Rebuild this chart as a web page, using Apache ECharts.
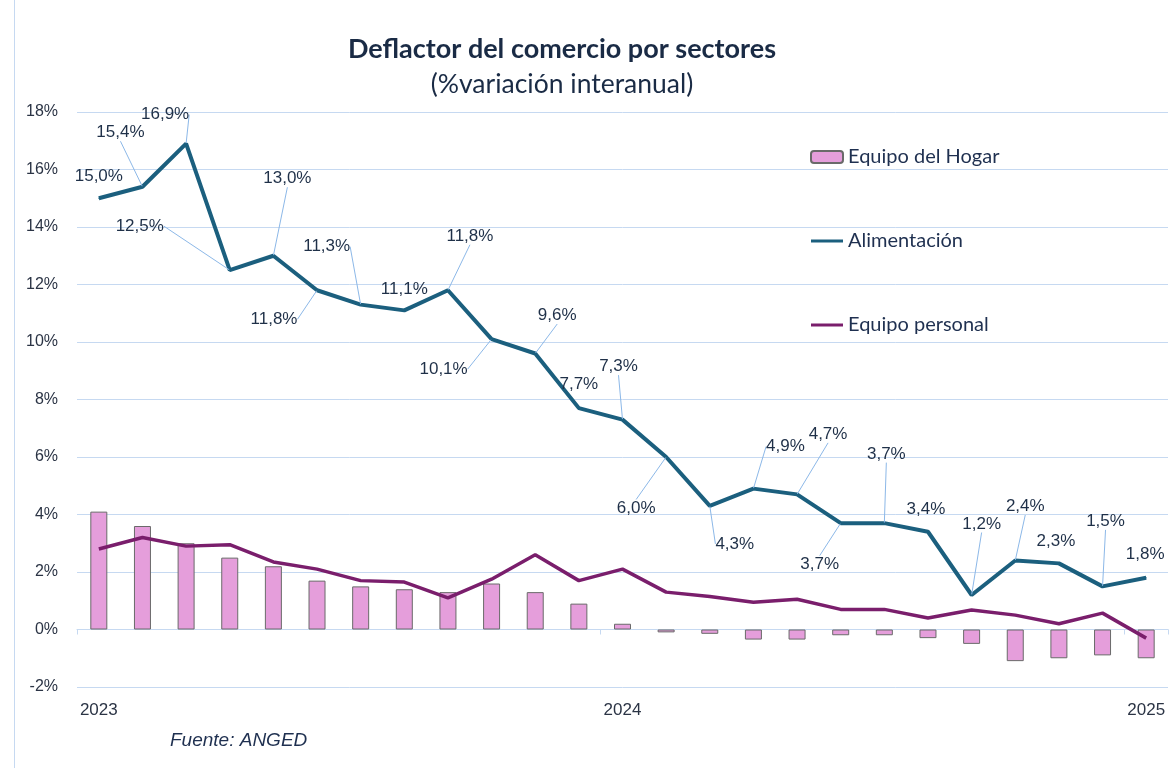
<!DOCTYPE html>
<html>
<head>
<meta charset="utf-8">
<script src="https://cdn.jsdelivr.net/npm/echarts@6/dist/echarts.min.js"></script>
<style>
  html, body { margin: 0; padding: 0; background: #fff; }
  #main { width: 1171px; height: 768px; }
</style>
</head>
<body>
<div id="main"></div>
<script>
// meses ene-2023 .. ene-2025
var months = ['ene-23','feb-23','mar-23','abr-23','may-23','jun-23','jul-23','ago-23','sep-23','oct-23','nov-23','dic-23',
              'ene-24','feb-24','mar-24','abr-24','may-24','jun-24','jul-24','ago-24','sep-24','oct-24','nov-24','dic-24',
              'ene-25'];

var equipoHogar = [4.1, 3.6, 3.0, 2.5, 2.2, 1.7, 1.5, 1.4, 1.3, 1.6, 1.3, 0.9,
                   0.2, -0.1, -0.15, -0.35, -0.35, -0.2, -0.2, -0.3, -0.5, -1.1, -1.0, -0.9,
                   -1.0];

var alimentacion = [15.0, 15.4, 16.9, 12.5, 13.0, 11.8, 11.3, 11.1, 11.8, 10.1, 9.6, 7.7,
                    7.3, 6.0, 4.3, 4.9, 4.7, 3.7, 3.7, 3.4, 1.2, 2.4, 2.3, 1.5,
                    1.8];

var equipoPersonal = [2.8, 3.2, 2.9, 2.95, 2.35, 2.1, 1.7, 1.65, 1.1, 1.75, 2.6, 1.7,
                      2.1, 1.3, 1.15, 0.95, 1.05, 0.7, 0.7, 0.4, 0.68, 0.5, 0.2, 0.57,
                      -0.3];

// desplazamiento de las etiquetas de Alimentación (px, desde el punto)
var labelOffsets = [[0,-22],[-22,-54],[-21,-29],[-90,-44],[14,-77],[-43,29],[-34,-58],[0,-21],
                    [22,-54],[-48,30],[22,-38],[0,-24],[-4,-53],[-30,51],[25,38],[32,-42],
                    [31,-60],[-21,41],[2,-69],[-2,-22],[10,-71],[10,-54],[-3,-22],[3,-65],
                    [-1,-23]];
var sinGuia = [0, 7, 11, 19, 22, 24];

var textColor = '#1f3048';
var gridColor = '#c6d9f1';
var colAlim = '#1b5f7e';
var colPers = '#7a1e6c';
var lineIcon = 'path://M0,0L32,0L32,3L0,3Z';

var dom = document.getElementById('main');
var myChart = echarts.init(dom);

var alimData = alimentacion.map(function (v, i) {
    return { value: v, labelLine: { show: sinGuia.indexOf(i) < 0 } };
});

var option = {
    backgroundColor: '#fff',
    animation: false,
    title: [
        {
            text: 'Deflactor del comercio por sectores',
            left: 557,
            top: 31,
            textAlign: 'center',
            textStyle: { fontFamily: 'Lato', fontWeight: 'bold', fontSize: 27, color: '#1a2b45' }
        },
        {
            text: '(%variación interanual)',
            left: 557,
            top: 66,
            textAlign: 'center',
            textStyle: { fontFamily: 'Lato', fontWeight: 'normal', fontSize: 26.5, color: '#1a2b45' }
        }
    ],
    legend: {
        orient: 'vertical',
        left: 805,
        top: 142,
        itemGap: 64,
        itemWidth: 32,
        itemHeight: 12,
        textStyle: { fontFamily: 'Lato', fontSize: 20, color: '#1f3050' },
        data: [
            { name: 'Equipo del Hogar' },
            { name: 'Alimentación', icon: lineIcon, itemStyle: { color: colAlim } },
            { name: 'Equipo personal', icon: lineIcon, itemStyle: { color: colPers } }
        ]
    },
    grid: { left: 77, right: 3, top: 112, bottom: 81, outerBoundsMode: 'none' },
    xAxis: {
        type: 'category',
        data: months,
        boundaryGap: true,
        axisLine: { onZero: true, lineStyle: { color: gridColor, width: 1 } },
        axisTick: {
            show: true,
            length: 5,
            interval: function (i) { return i % 12 === 0; },
            lineStyle: { color: gridColor }
        },
        axisLabel: {
            margin: 15,
            interval: function (i) { return i % 12 === 0; },
            formatter: function (v) { return '20' + v.slice(4); },
            fontFamily: 'Liberation Sans',
            fontSize: 17,
            color: '#2b3445'
        }
    },
    yAxis: {
        type: 'value',
        min: -2,
        max: 18,
        interval: 2,
        axisLine: { show: false },
        axisTick: { show: false },
        axisLabel: {
            formatter: '{value}%',
            margin: 19,
            fontFamily: 'Liberation Sans',
            fontSize: 16,
            color: '#2b3445'
        },
        splitLine: { lineStyle: { color: gridColor, width: 1 } }
    },
    series: [
        {
            name: 'Equipo del Hogar',
            type: 'bar',
            data: equipoHogar,
            barWidth: 17,
            itemStyle: { color: '#e59edb', borderColor: '#6a6a6a', borderWidth: 1 },
            z: 1
        },
        {
            name: 'Alimentación',
            type: 'line',
            data: alimData,
            symbol: 'circle',
            symbolSize: 1,
            showSymbol: true,
            color: colAlim,
            lineStyle: { color: colAlim, width: 4 },
            itemStyle: { color: colAlim },
            label: {
                show: true,
                position: 'inside',
                fontFamily: 'Liberation Sans',
                fontSize: 17,
                color: textColor,
                formatter: function (p) { return p.value.toFixed(1).replace('.', ',') + '%'; }
            },
            labelLine: { show: true, lineStyle: { color: '#8cb8e8', width: 1 } },
            labelLayout: function (p) {
                var o = labelOffsets[p.dataIndex];
                return { dx: o[0], dy: o[1] };
            },
            z: 3
        },
        {
            name: 'Equipo personal',
            type: 'line',
            data: equipoPersonal,
            symbol: 'none',
            color: colPers,
            lineStyle: { color: colPers, width: 3.5 },
            z: 2
        }
    ],
    graphic: [
        {
            type: 'line',
            shape: { x1: 14.5, y1: 0, x2: 14.5, y2: 768 },
            style: { stroke: gridColor, lineWidth: 1 }
        },
        {
            type: 'text',
            left: 170,
            top: 731,
            style: {
                text: 'Fuente: ANGED',
                fontFamily: 'Liberation Sans',
                fontStyle: 'italic',
                fontSize: 19,
                fill: '#1f3050'
            }
        }
    ]
};

if (option && typeof option === "object") {
    myChart.setOption(option, true);
    window.onresize = myChart.resize;
}
</script>
</body>
</html>
